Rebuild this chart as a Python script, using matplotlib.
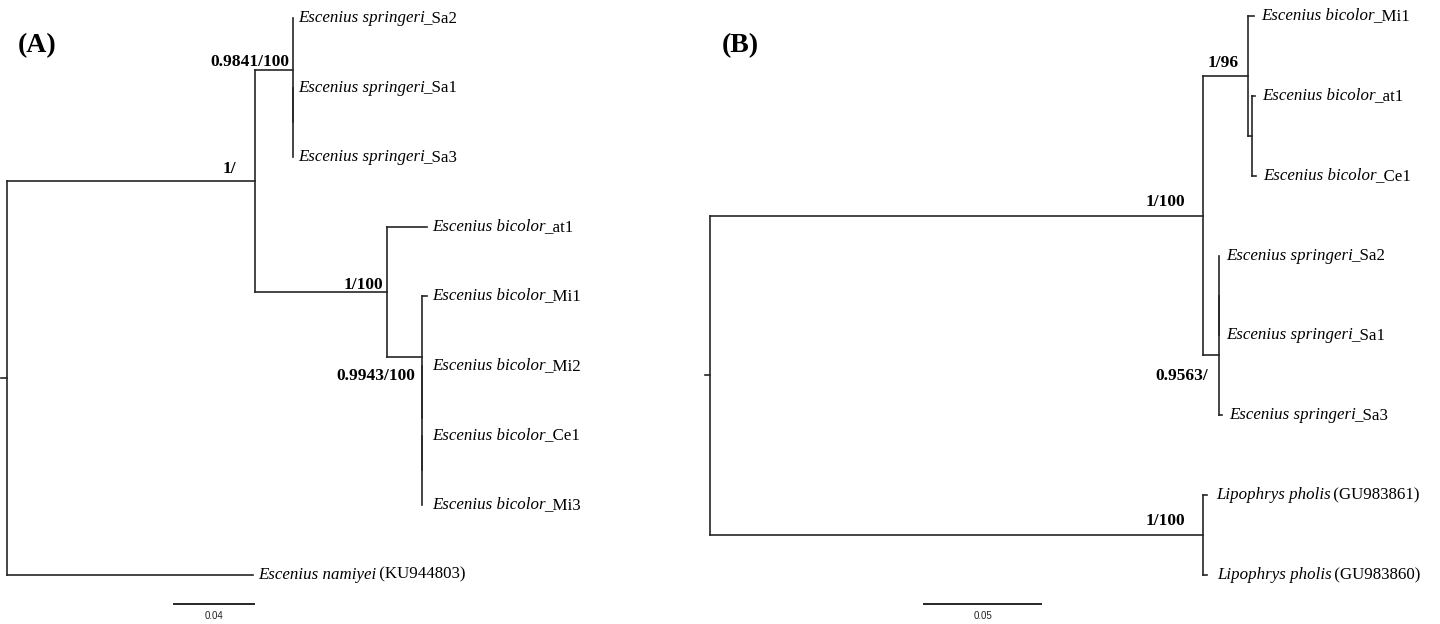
import matplotlib
matplotlib.use("Agg")
import matplotlib.pyplot as plt

SERIF = "Liberation Serif"

# ---------------- Panel A tree (parent index, branch length) ----------------
a_parent = [-1, 0, 1, 2, 2, 4, 4, 1, 7, 7, 9, 9, 11, 11, 13, 13, 0]
a_length = [0, 0.124, 0.019, 0, 0, 0, 0, 0.066, 0.020, 0.0175, 0.0025, 0, 0, 0, 0, 0, 0.123]
a_italic = ["", "", "", "Escenius springeri", "", "Escenius springeri", "Escenius springeri",
            "", "Escenius bicolor", "", "Escenius bicolor", "", "Escenius bicolor", "",
            "Escenius bicolor", "Escenius bicolor", "Escenius namiyei"]
a_roman = ["", "", "", "_Sa2", "", "_Sa1", "_Sa3", "", "_at1", "", "_Mi1", "", "_Mi2", "",
           "_Ce1", "_Mi3", " (KU944803)"]
a_support = ["", "1/", "0.9841/100", "", "", "", "", "1/100", "", "0.9943/100",
             "", "", "", "", "", "", ""]
a_scale = 0.04

# ---------------- Panel B tree ----------------
b_parent = [-1, 0, 1, 2, 2, 4, 4, 1, 7, 8, 8, 7, 0, 12, 12]
b_length = [0, 0.2107, 0.0192, 0.0025, 0.0017, 0.0013, 0.0017, 0.0068, 0, 0, 0, 0.0013,
            0.2107, 0.0017, 0.0017]
b_italic = ["", "", "", "Escenius bicolor", "", "Escenius bicolor", "Escenius bicolor",
            "", "", "Escenius springeri", "Escenius springeri", "Escenius springeri",
            "", "Lipophrys pholis", "Lipophrys pholis"]
b_roman = ["", "", "", "_Mi1", "", "_at1", "_Ce1", "", "", "_Sa2", "_Sa1", "_Sa3", "",
           " (GU983861)", " (GU983860)"]
b_support = ["", "1/100", "1/96", "", "", "", "", "0.9563/", "", "", "", "", "1/100", "", ""]
b_scale = 0.05

# label offsets (pixels): node -> (dx, dy)
a_sup_off = {1: (-19, 8), 2: (-4, 4), 7: (-4, 3), 9: (-7, -23)}
b_sup_off = {1: (-18, 10), 2: (-9, 9), 7: (-11, -25), 12: (-18, 10)}
a_gap_extra = {12: 5, 14: 5, 15: 5}
b_gap_extra = {13: 2, 14: 3}

PX = 0.72  # pixels -> points at 100 dpi
LINE_C = "#262626"
LW = 1.2


def layout(parent, length):
    n = len(parent)
    children = [[] for _ in range(n)]
    for i, p in enumerate(parent):
        if p >= 0:
            children[p].append(i)
    x = [0.0] * n
    y = [0.0] * n
    counter = [0]

    def walk(i, xx):
        x[i] = xx
        if not children[i]:
            y[i] = counter[0]
            counter[0] += 1
        else:
            for c in children[i]:
                walk(c, xx + length[c])
            cy = [y[c] for c in children[i]]
            y[i] = (min(cy) + max(cy)) / 2.0
    walk(0, 0.0)
    return x, y, children


def draw_tree(ax, parent, length, italic, roman, support, sup_off, gap, gap_extra, stub):
    x, y, children = layout(parent, length)
    for i, p in enumerate(parent):
        if p >= 0:
            ax.plot([x[p], x[i]], [y[i], y[i]], color=LINE_C, lw=LW,
                    solid_capstyle="projecting")
        if children[i]:
            cy = [y[c] for c in children[i]]
            ax.plot([x[i], x[i]], [min(cy), max(cy)], color=LINE_C, lw=LW,
                    solid_capstyle="projecting")
    ax.plot([x[0] - stub, x[0]], [y[0], y[0]], color=LINE_C, lw=LW)
    for i in range(len(parent)):
        if italic[i]:
            g = gap + gap_extra.get(i, 0)
            t1 = ax.annotate(italic[i], xy=(x[i], y[i]), xytext=(g * PX, 0),
                             textcoords="offset points", ha="left", va="center",
                             fontsize=12.2, family=SERIF, style="italic", color="black")
            ax.annotate(roman[i], xy=(1, 0), xycoords=t1, xytext=(-1.2, 0),
                        textcoords="offset points", ha="left", va="bottom",
                        fontsize=12.2, family=SERIF, color="black")
        if support[i]:
            dx, dy = sup_off[i]
            ax.annotate(support[i], xy=(x[i], y[i]), xytext=(dx * PX, dy * PX),
                        textcoords="offset points", ha="right", va="baseline",
                        fontsize=12.5, family=SERIF, fontweight="bold", color="black")
    return x, y


def scale_bar(ax, x0, yb, length):
    ax.plot([x0, x0 + length], [yb, yb], color=LINE_C, lw=1.4)
    ax.annotate(f"{length:.2f}", xy=(x0 + length / 2, yb), xytext=(0, -7 * PX),
                textcoords="offset points", ha="center", va="top",
                fontsize=7, family="Liberation Sans", color="#222222")


fig = plt.figure(figsize=(14.4, 6.24), dpi=100)

# Panel A: axes covering pixels 0..700; x=0 at px 7, 2000 px/unit; tips at 18 + 69.6*i
axA = fig.add_axes([0, 0, 700 / 1440, 1])
axA.set_xlim(-7 / 2000, (700 - 7) / 2000)
axA.set_ylim((624 - 18) / 69.6, -18 / 69.6)
axA.axis("off")
draw_tree(axA, a_parent, a_length, a_italic, a_roman, a_support, a_sup_off,
          gap=5, gap_extra=a_gap_extra, stub=0.003)
scale_bar(axA, (174 - 7) / 2000, (604 - 18) / 69.6, a_scale)

# Panel B: axes covering pixels 700..1440; x=0 at px 710, 2340 px/unit; tips at 16 + 79.86*i
axB = fig.add_axes([700 / 1440, 0, 740 / 1440, 1])
axB.set_xlim((700 - 710) / 2340, (1440 - 710) / 2340)
axB.set_ylim((624 - 16) / 79.86, -16 / 79.86)
axB.axis("off")
draw_tree(axB, b_parent, b_length, b_italic, b_roman, b_support, b_sup_off,
          gap=7, gap_extra=b_gap_extra, stub=0.002)
scale_bar(axB, (924 - 710) / 2340, (604 - 16) / 79.86, b_scale)

fig.text(18 / 1440, 1 - 52 / 624, "(A)", fontsize=20, fontweight="bold", family=SERIF,
         ha="left", va="baseline")
fig.text(722 / 1440, 1 - 52 / 624, "(B)", fontsize=20, fontweight="bold", family=SERIF,
         ha="left", va="baseline")

fig.savefig("out.png", dpi=100, facecolor="white")
